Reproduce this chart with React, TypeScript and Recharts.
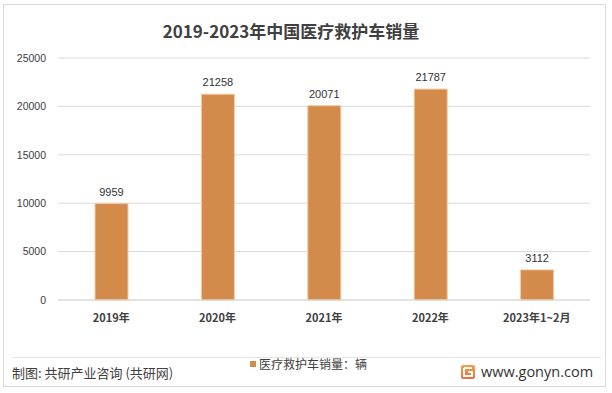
import React from "react";
import { BarChart, Bar, XAxis, YAxis, CartesianGrid, LabelList } from "recharts";

const categories = ["2019年", "2020年", "2021年", "2022年", "2023年1~2月"];
const sales = [9959, 21258, 20071, 21787, 3112];
const yTicks = [0, 5000, 10000, 15000, 20000, 25000];
const seriesName = "医疗救护车销量：辆";
const title = "2019-2023年中国医疗救护车销量";
const source = "制图: 共研产业咨询 (共研网)";
const site = "www.gonyn.com";

const data = categories.map((c, i) => ({ name: c, value: sales[i] }));

const CJK = '"Noto Sans CJK SC", "Liberation Sans", sans-serif';
const NUM = '"Liberation Sans", "Noto Sans CJK SC", sans-serif';

export default function App() {
  return (
    <div style={{ position: "absolute", left: 0, top: 0, width: 612, height: 393, background: "#fff", fontFamily: CJK }}>
      <div style={{ position: "absolute", left: 3, top: 4, width: 603, height: 383, border: "1px solid #D9D9D9", boxSizing: "border-box" }} />
      <div style={{ position: "absolute", left: 0, top: 19, width: 582, textAlign: "center", fontSize: 17, fontWeight: 700, color: "#404040", lineHeight: "24px" }}>
        {title}
      </div>
      <div style={{ position: "absolute", left: 0, top: 0 }}>
        <BarChart width={612} height={393} data={data} margin={{ top: 58, right: 22, bottom: 63, left: 8 }}>
          <CartesianGrid horizontal vertical={false} stroke="#D9D9D9" />
          <XAxis
            dataKey="name"
            axisLine={{ stroke: "#D9D9D9" }}
            tickLine={false}
            height={30}
            tickMargin={8}
            tick={{ fontSize: 11, fill: "#404040", fontWeight: 700, fontFamily: CJK }}
            interval={0}
          />
          <YAxis
            width={50}
            domain={[0, 25000]}
            ticks={yTicks}
            axisLine={false}
            tickLine={false}
            tickMargin={6}
            tick={{ fontSize: 10.5, fill: "#404040", fontFamily: NUM }}
          />
          <Bar dataKey="value" name={seriesName} fill="#D38B4C" stroke="#F2C9A0" strokeWidth={1} barSize={33} isAnimationActive={false}>
            <LabelList dataKey="value" position="top" offset={8} style={{ fontSize: 11, fill: "#333333", fontFamily: NUM }} />
          </Bar>
        </BarChart>
      </div>
      <div style={{ position: "absolute", left: 250, top: 356, display: "flex", alignItems: "center", fontSize: 12, color: "#404040", lineHeight: "16px" }}>
        <span style={{ display: "inline-block", width: 6, height: 6, background: "#D38B4C", marginRight: 3 }} />
        <span>{seriesName}</span>
      </div>
      <div style={{ position: "absolute", left: 12, top: 357, width: 589, height: 1, background: "#E6E6E6" }} />
      <div style={{ position: "absolute", left: 12, top: 364, fontSize: 13, color: "#404040", lineHeight: "18px" }}>{source}</div>
      <svg style={{ position: "absolute", left: 460, top: 364 }} width={16} height={16}>
        <defs>
          <linearGradient id="lg" x1="0" y1="0" x2="0" y2="1">
            <stop offset="0" stopColor="#F7A046" />
            <stop offset="1" stopColor="#F06A3C" />
          </linearGradient>
        </defs>
        <rect x={1} y={1} width={14} height={14} rx={2} fill="url(#lg)" />
        <path d="M4 4 H12 M4 4 V12 H12 V8 H8" stroke="#fff" strokeWidth={2} fill="none" />
      </svg>
      <div style={{ position: "absolute", left: 481, top: 362, fontSize: 14.5, color: "#333", lineHeight: "20px", fontFamily: '"Open Sans", "Liberation Sans", sans-serif' }}>{site}</div>
    </div>
  );
}
